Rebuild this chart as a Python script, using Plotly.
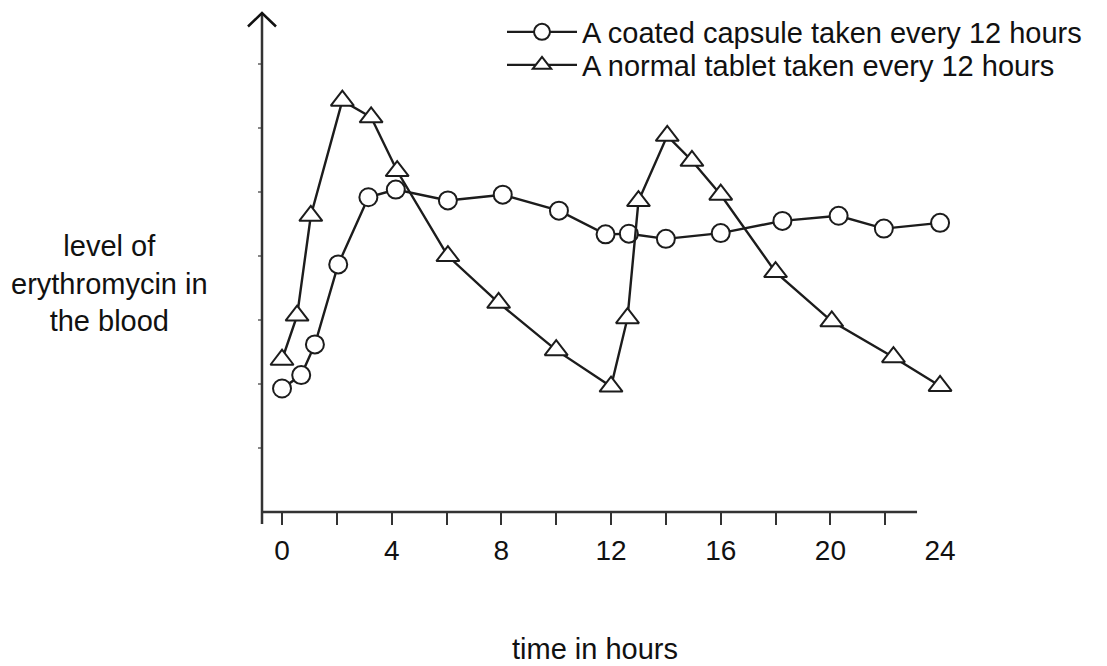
import plotly.graph_objects as go

# ---- data (y in arbitrary "level" units) ----
capsule_hours = [0, 0.7, 1.2, 2.05, 3.15, 4.15, 6.05, 8.05, 10.1, 11.8, 12.65, 14.0, 16.0, 18.25, 20.3, 21.95, 24.0]
capsule_level = [1.93, 2.14, 2.62, 3.87, 4.92, 5.04, 4.87, 4.96, 4.71, 4.34, 4.35, 4.27, 4.36, 4.55, 4.63, 4.43, 4.52]

tablet_hours = [0, 0.55, 1.05, 2.2, 3.25, 4.2, 6.05, 7.9, 10.0, 12.0, 12.6, 13.0, 14.05, 14.95, 16.0, 18.0, 20.05, 22.3, 24.0]
tablet_level = [2.38, 3.07, 4.63, 6.43, 6.17, 5.33, 4.00, 3.27, 2.53, 1.96, 3.03, 4.86, 5.88, 5.49, 4.96, 3.75, 2.98, 2.42, 1.97]

series_names = ["A coated capsule taken every 12 hours", "A normal tablet taken every 12 hours"]

x_ticks = [0, 2, 4, 6, 8, 10, 12, 14, 16, 18, 20, 22]
x_ticktext = ["0", "", "4", "", "8", "", "12", "", "16", "", "20", ""]
last_tick = [24]
last_ticktext = ["24"]
y_ticks = [1, 2, 3, 4, 5, 6, 7]

x_title = "time in hours"
y_title = "level of<br>erythromycin in<br>the blood"

INK = "#1c1c1c"
FONT = "Liberation Sans, Arial, sans-serif"

fig = go.Figure()
fig.add_trace(go.Scatter(
    x=capsule_hours, y=capsule_level, name=series_names[0], legend="legend",
    mode="lines+markers", cliponaxis=False,
    line=dict(color=INK, width=2.4),
    marker=dict(symbol="circle", size=18, color="white", line=dict(color=INK, width=2)),
))
fig.add_trace(go.Scatter(
    x=tablet_hours, y=tablet_level, name=series_names[1], legend="legend2",
    mode="lines+markers", cliponaxis=False,
    line=dict(color=INK, width=2.4),
    marker=dict(symbol="triangle-up", size=20, color="white", line=dict(color=INK, width=2)),
))

X_RANGE = [-0.73, 24.18]
Y_RANGE = [0, 7.8]

# page is rendered with an 8px body margin: figure px = page px - 8
PLOT_L, PLOT_R, PLOT_T, PLOT_B = 262, 945, 13, 512   # page pixels of the plot area
OFF = 8
plot_w = PLOT_R - PLOT_L
plot_h = PLOT_B - PLOT_T

legend_common = dict(
    xanchor="left", yanchor="middle",
    bgcolor="rgba(0,0,0,0)", font=dict(size=29, family=FONT, color="#111"),
    itemwidth=70, borderwidth=0,
)

fig.update_layout(
    width=1107, height=666,
    margin=dict(l=PLOT_L - OFF, r=1107 - (PLOT_R - OFF), t=PLOT_T - OFF, b=666 - (PLOT_B - OFF),
                autoexpand=False),
    paper_bgcolor="white", plot_bgcolor="white",
    font=dict(family=FONT, color="#111", size=28),
    showlegend=True,
    legend=dict(x=(502 - PLOT_L) / plot_w, y=(PLOT_B - 32) / plot_h, **legend_common),
    legend2=dict(x=(502 - PLOT_L) / plot_w, y=(PLOT_B - 65) / plot_h, **legend_common),
    xaxis=dict(
        range=X_RANGE, showgrid=False, zeroline=False, showline=False,
        tickmode="array", tickvals=x_ticks, ticktext=x_ticktext,
        ticks="outside", ticklen=12, tickwidth=2, tickcolor="#333",
        tickfont=dict(size=28, family=FONT, color="#111"), ticklabelstandoff=1,
    ),
    xaxis2=dict(
        range=X_RANGE, overlaying="x", anchor="y", side="bottom",
        showgrid=False, zeroline=False, showline=False,
        tickmode="array", tickvals=last_tick, ticktext=last_ticktext,
        ticks="outside", ticklen=12, tickwidth=2, tickcolor="rgba(0,0,0,0)",
        tickfont=dict(size=28, family=FONT, color="#111"), ticklabelstandoff=1,
    ),
    yaxis=dict(
        range=Y_RANGE, showgrid=False, zeroline=False, showline=False,
        tickmode="array", tickvals=y_ticks, showticklabels=False,
        ticks="outside", ticklen=3, tickwidth=2, tickcolor="#888",
    ),
)

# dummy trace to activate xaxis2 (no visible marks)
fig.add_trace(go.Scatter(x=last_tick, y=[None], xaxis="x2", showlegend=False, hoverinfo="skip"))

# axis lines (drawn as shapes so they can stop / extend like the original)
fig.add_shape(type="line", xref="x", yref="paper", x0=X_RANGE[0], x1=23.16, y0=0, y1=0,
              line=dict(color="#333", width=2.5))
fig.add_shape(type="line", xref="paper", yref="paper", x0=0, x1=0, y0=-12 / plot_h, y1=1.0,
              line=dict(color="#333", width=2.5))
# open arrow head on the y axis
ax = 14 / plot_w
ay = 13.5 / plot_h
fig.add_shape(type="path", xref="paper", yref="paper",
              path=f"M {-ax} {1 - ay} L 0 1 L {ax} {1 - ay}",
              line=dict(color="#111", width=2.5))

fig.add_annotation(text=x_title, xref="paper", yref="paper",
                   x=(595 - PLOT_L) / plot_w, y=(PLOT_B - 649) / plot_h,
                   xanchor="center", yanchor="middle", showarrow=False,
                   font=dict(size=29, family=FONT, color="#111"))
fig.add_annotation(text=y_title, xref="paper", yref="paper",
                   x=(109 - PLOT_L) / plot_w, y=(PLOT_B - 283) / plot_h,
                   xanchor="center", yanchor="middle", showarrow=False, align="center",
                   font=dict(size=29, family=FONT, color="#111"))

fig.write_html("out.html")
